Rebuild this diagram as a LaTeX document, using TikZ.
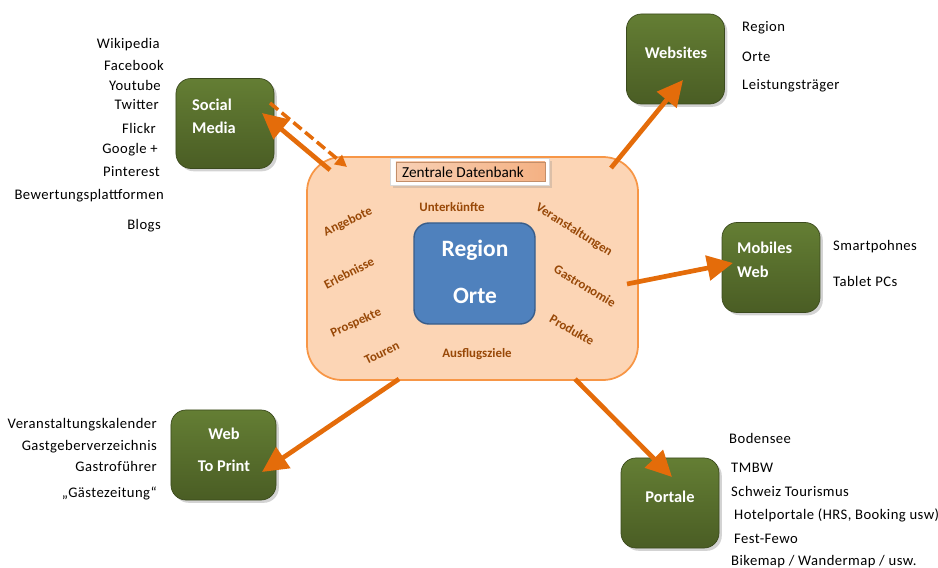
\documentclass[tikz,border=0pt]{standalone}
\usepackage{fontspec}
\setmainfont{Carlito}
\usetikzlibrary{arrows.meta,shadows}
\definecolor{dkgreen}{HTML}{4A5D24}
\definecolor{ltgreen}{HTML}{647E34}
\definecolor{peach}{HTML}{FCD5B5}
\definecolor{peachline}{HTML}{F79646}
\definecolor{arrorange}{HTML}{E46C0A}
\definecolor{regblue}{HTML}{4F81BD}
\definecolor{regline}{HTML}{385D8A}
\definecolor{topicbrown}{HTML}{984807}
\definecolor{dbfill}{HTML}{F4B183}
\tikzset{
  greenbox/.style={draw=dkgreen!80!black, line width=0.6pt, top color=ltgreen, bottom color=dkgreen,
    rounded corners=0.45cm, minimum width=2.94cm, minimum height=2.7cm, drop shadow={opacity=0.35}},
  boxtxt/.style={text=white, font=\fontsize{14}{16}\selectfont\bfseries, inner sep=0pt},
  listtxt/.style={font=\fontsize{12.5}{14}\selectfont\addfontfeature{LetterSpace=3}, inner sep=0pt},
  topic/.style={text=topicbrown, font=\fontsize{11}{13}\selectfont\bfseries, inner sep=0pt},
  bigarrow/.style={draw=arrorange, line width=4pt, -{Triangle[length=22pt,width=21pt]}},
  dasharrow/.style={draw=arrorange, line width=3pt, dash pattern=on 9pt off 4pt, -{Triangle[length=10pt,width=10pt]}}
}
\begin{document}
\begin{tikzpicture}[x=0.03cm,y=-0.03cm]
\useasboundingbox (0,0) rectangle (938,568);

% Datenbank in der Mitte
\node[draw=peachline, line width=1.5pt, fill=peach, rounded corners=1.05cm, minimum width=9.93cm, minimum height=6.69cm] (db) at (472.5,268.5) {};
\node[draw=black!15, fill=white, minimum width=4.77cm, minimum height=0.81cm, drop shadow={opacity=0.25}] (dbframe) at (469.5,171.5) {};
\node[draw=dbfill!80!black, left color=dbfill!60, right color=dbfill, minimum width=4.47cm, minimum height=0.57cm] (dblabel) at (470.5,171.5) {};
\node[font=\fontsize{13}{15}\selectfont, anchor=west, inner sep=0pt] (dbtxt) at (402,172) {Zentrale Datenbank};
\node[draw=regline, line width=1.2pt, fill=regblue, rounded corners=0.45cm, minimum width=3.63cm, minimum height=3.03cm] (region) at (474.5,273.5) {};
\node[text=white, font=\fontsize{20}{24}\selectfont\bfseries, inner sep=0pt] (regtxt) at (475,250) {Region};
\node[text=white, font=\fontsize{20}{24}\selectfont\bfseries, inner sep=0pt] (ortetxt) at (475,296) {Orte};

\node[topic, rotate=25] (angebote) at (348,222) {Angebote};
\node[topic] (unterk) at (452,207) {Unterkünfte};
\node[topic, rotate=-32] (veranst) at (574,230) {Veranstaltungen};
\node[topic, rotate=27] (erlebn) at (349,273) {Erlebnisse};
\node[topic, rotate=-31] (gastro) at (585,286) {Gastronomie};
\node[topic, rotate=24] (prosp) at (356,323) {Prospekte};
\node[topic, rotate=-30] (produkte) at (572,330) {Produkte};
\node[topic, rotate=26] (touren) at (382,353) {Touren};
\node[topic] (ausfl) at (477,354) {Ausflugsziele};

% Kanaele
\node[greenbox] (social) at (225,123.5) {};
\node[boxtxt, anchor=west] (socialtxt) at (192,105) {Social};
\node[boxtxt, anchor=west] (mediatxt) at (192,128) {Media};
\node[greenbox] (websites) at (675.5,59) {};
\node[boxtxt] (websitestxt) at (676,53) {Websites};
\node[greenbox] (mobil) at (771,267.5) {};
\node[boxtxt, anchor=west] (mobiltxt) at (737,248) {Mobiles};
\node[boxtxt, anchor=west] (mobwebtxt) at (737,272) {Web};
\node[greenbox, minimum width=3.15cm] (print) at (223.5,455) {};
\node[boxtxt] (printweb) at (224,434) {Web};
\node[boxtxt] (printtxt) at (224,466) {To Print};
\node[greenbox] (portale) at (670,503) {};
\node[boxtxt] (portaletxt) at (670,497) {Portale};

% Pfeile
\coordinate (smtail) at (330,170);
\coordinate (smtip) at (262,113);
\coordinate (dstail) at (270,103);
\coordinate (dstip) at (347,167);
\coordinate (wstail) at (611,168);
\coordinate (wstip) at (683,80);
\coordinate (mwtail) at (627,284);
\coordinate (mwtip) at (733,263);
\coordinate (tptail) at (399,379);
\coordinate (tptip) at (262,472);
\coordinate (pttail) at (575,379);
\coordinate (pttip) at (672,477);
\draw[bigarrow] (smtail) -- (smtip);
\draw[dasharrow] (dstail) -- (dstip);
\draw[bigarrow] (wstail) -- (wstip);
\draw[bigarrow] (mwtail) -- (mwtip);
\draw[bigarrow] (tptail) -- (tptip);
\draw[bigarrow] (pttail) -- (pttip);

% Listen
\node[listtxt, anchor=east] (wiki) at (160,45) {Wikipedia};
\node[listtxt, anchor=east] (fb) at (164,65) {Facebook};
\node[listtxt, anchor=east] (yt) at (161,85) {Youtube};
\node[listtxt, anchor=east] (tw) at (159,105) {Twitter};
\node[listtxt, anchor=east] (flickr) at (156,128) {Flickr};
\node[listtxt, anchor=east] (google) at (158,150) {Google +};
\node[listtxt, anchor=east] (pin) at (160,172) {Pinterest};
\node[listtxt, anchor=east] (bewert) at (164,196) {Bewertungsplattformen};
\node[listtxt, anchor=east] (blogs) at (161,226) {Blogs};

\node[listtxt, anchor=west] (wsregion) at (742,28) {Region};
\node[listtxt, anchor=west] (wsorte) at (742,57) {Orte};
\node[listtxt, anchor=west] (wsleist) at (742,86) {Leistungsträger};

\node[listtxt, anchor=west] (smart) at (833,247) {Smartpohnes};
\node[listtxt, anchor=west] (tablet) at (833,281) {Tablet PCs};

\node[listtxt, anchor=east] (kalender) at (157,425) {Veranstaltungskalender};
\node[listtxt, anchor=east] (gastgeber) at (157,447) {Gastgeberverzeichnis};
\node[listtxt, anchor=east] (gastrof) at (157,466) {Gastroführer};
\node[listtxt, anchor=east] (zeitung) at (157,493) {„Gästezeitung“};

\node[listtxt, anchor=west] (bodensee) at (729,438) {Bodensee};
\node[listtxt, anchor=west] (tmbw) at (731,468) {TMBW};
\node[listtxt, anchor=west] (schweiz) at (731,491) {Schweiz Tourismus};
\node[listtxt, anchor=west] (hotel) at (734,515) {Hotelportale (HRS, Booking usw)};
\node[listtxt, anchor=west] (fewo) at (734,539) {Fest-Fewo};
\node[listtxt, anchor=west] (bikemap) at (731,562) {Bikemap / Wandermap / usw.};
\end{tikzpicture}
\end{document}
